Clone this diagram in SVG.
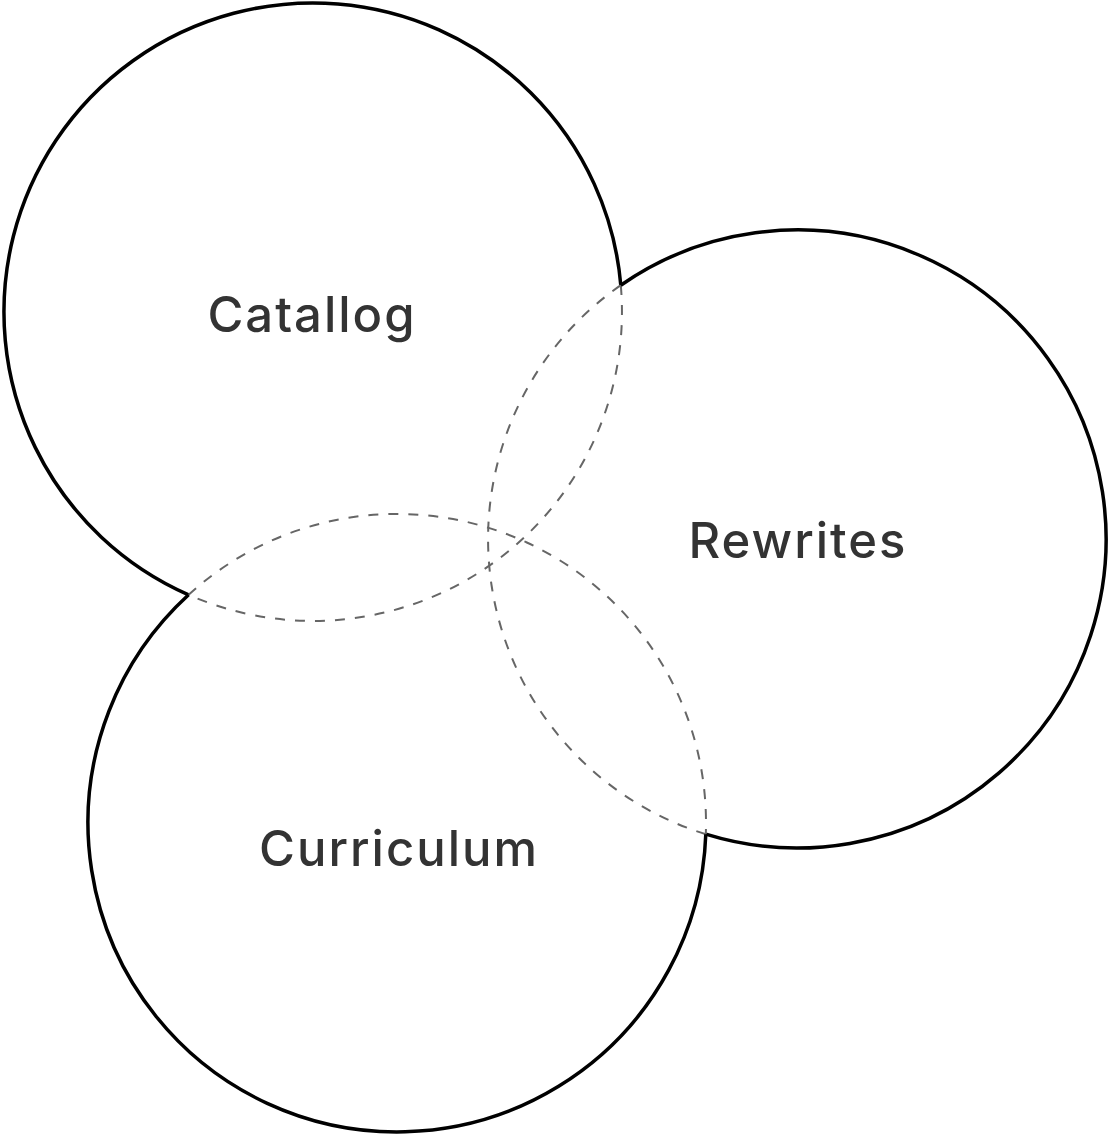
<svg xmlns="http://www.w3.org/2000/svg" width="1109" height="1135" viewBox="0 0 1109 1135">
<style>
.outer{fill:none;stroke:#000;stroke-width:3.5;stroke-linejoin:miter}
.inner{fill:none;stroke:#666;stroke-width:2;stroke-dasharray:10 10}
.lbl{font-family:Inter,"Liberation Sans",sans-serif;font-size:49px;font-weight:500;fill:#333;text-anchor:middle;dominant-baseline:central;letter-spacing:2px}
</style>
<rect width="1109" height="1135" fill="#fff"/>
<g id="catallog">
<path class="inner" d="M620.8,285.2 A309,309 0 0 1 188.6,594.8"/>
<path class="outer" d="M188.6,594.8 A309,309 0 1 1 620.8,285.2"/>
<text class="lbl" x="312" y="314">Catallog</text>
</g>
<g id="rewrites">
<path class="inner" d="M705.8,834.2 A309,309 0 0 1 620.8,285.2"/>
<path class="outer" d="M620.8,285.2 A309,309 0 1 1 705.8,834.2"/>
<text class="lbl" x="798" y="540">Rewrites</text>
</g>
<g id="curriculum">
<path class="inner" d="M188.6,594.8 A309,309 0 0 1 705.8,834.2"/>
<path class="outer" d="M705.8,834.2 A309,309 0 1 1 188.6,594.8"/>
<text class="lbl" x="399" y="848">Curriculum</text>
</g>
<g id="connectors"></g>
</svg>
